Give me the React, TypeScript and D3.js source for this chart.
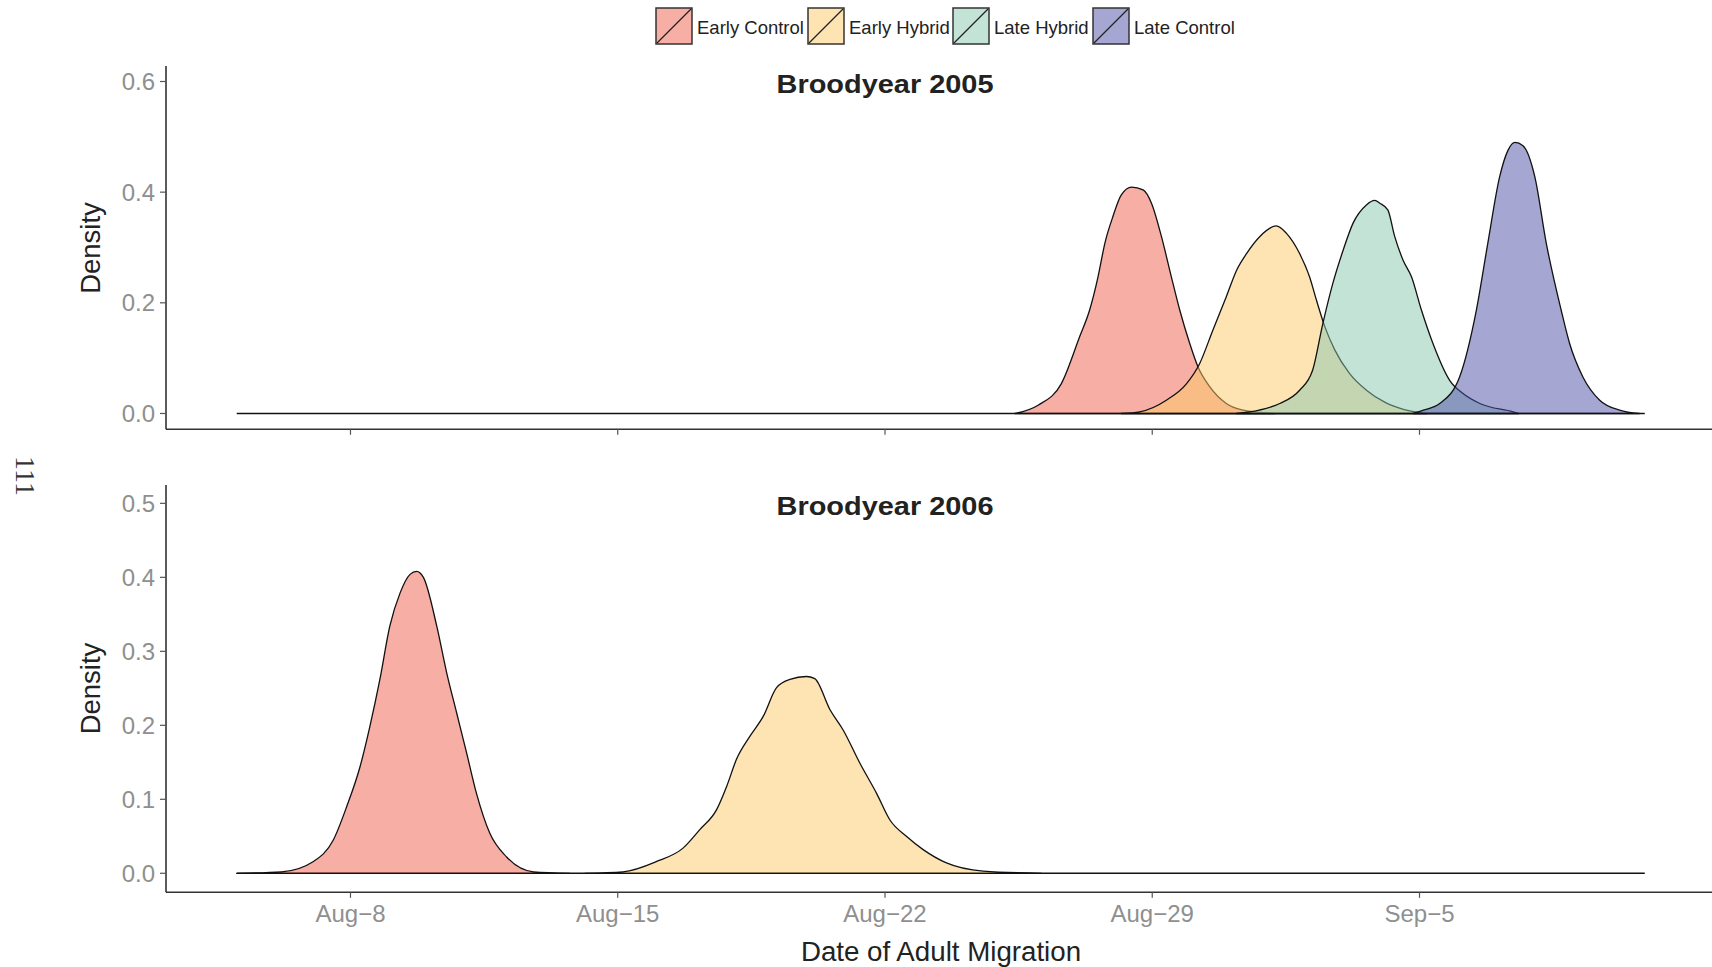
import React from "react";
import * as d3 from "d3";

// ---------- data ----------
const seriesNames = ["Early Control", "Early Hybrid", "Late Hybrid", "Late Control"];
const seriesFill = ["#ED5D4B", "#FBC965", "#89C7AF", "#4B4DA5"];
const keyFill = ["#F6AEA5", "#FDE4B2", "#C4E3D7", "#A5A6D2"];

// x values are days after Aug-8
const ec2005Days = [17.4, 18.01, 18.62, 19.1, 19.36, 19.58, 19.76, 19.97, 20.19, 20.46, 20.76, 20.98, 21.24, 21.5, 21.72, 21.98, 22.2, 22.51, 22.94, 23.38, 24.2];
const ec2005Dens = [0, 0.015, 0.054, 0.139, 0.187, 0.247, 0.308, 0.356, 0.395, 0.409, 0.404, 0.38, 0.32, 0.247, 0.187, 0.127, 0.084, 0.048, 0.018, 0.006, 0];

const eh2005Days = [20.19, 20.67, 21.37, 21.9, 22.24, 22.59, 22.94, 23.21, 23.47, 23.82, 24.25, 24.51, 24.86, 25.12, 25.3, 25.52, 25.78, 26.17, 26.61, 27.1, 27.6, 28.2];
const eh2005Dens = [0, 0.003, 0.024, 0.054, 0.09, 0.151, 0.211, 0.259, 0.289, 0.32, 0.339, 0.326, 0.289, 0.247, 0.205, 0.157, 0.115, 0.072, 0.042, 0.02, 0.007, 0];

const lh2005Days = [23.2, 23.8, 24.34, 24.86, 25.2, 25.47, 25.73, 26.0, 26.26, 26.61, 26.83, 26.96, 27.17, 27.35, 27.57, 27.79, 28.05, 28.35, 28.79, 29.14, 29.58, 30.45, 30.6];
const lh2005Dens = [0, 0.006, 0.018, 0.042, 0.078, 0.163, 0.235, 0.295, 0.344, 0.377, 0.385, 0.38, 0.368, 0.32, 0.277, 0.247, 0.187, 0.127, 0.06, 0.036, 0.018, 0.003, 0];

const lc2005Days = [27.83, 28.1, 28.53, 29.05, 29.49, 29.79, 30.1, 30.32, 30.5, 30.71, 31.02, 31.32, 31.71, 31.93, 32.28, 32.72, 33.24, 33.76];
const lc2005Dens = [0, 0.006, 0.018, 0.066, 0.187, 0.308, 0.428, 0.476, 0.49, 0.484, 0.428, 0.308, 0.187, 0.127, 0.066, 0.024, 0.006, 0];

const ec2006Days = [-2.98, -1.8, -0.97, -0.45, -0.1, 0.25, 0.51, 0.77, 1.03, 1.3, 1.56, 1.73, 1.91, 2.26, 2.52, 2.78, 3.04, 3.3, 3.65, 4.09, 4.79, 5.74];
const ec2006Dens = [0, 0.002, 0.016, 0.045, 0.09, 0.144, 0.199, 0.262, 0.334, 0.379, 0.404, 0.408, 0.4, 0.334, 0.271, 0.217, 0.163, 0.108, 0.054, 0.022, 0.002, 0];

const eh2006Days = [6.14, 7.14, 8.02, 8.71, 9.15, 9.59, 9.85, 10.11, 10.46, 10.81, 11.16, 11.51, 11.94, 12.16, 12.56, 12.9, 13.34, 13.78, 14.13, 14.56, 15.0, 15.61, 16.57, 18.1];
const eh2006Dens = [0, 0.002, 0.016, 0.034, 0.059, 0.086, 0.117, 0.154, 0.185, 0.212, 0.251, 0.262, 0.266, 0.263, 0.221, 0.194, 0.149, 0.108, 0.072, 0.05, 0.032, 0.014, 0.003, 0];

const baselineDays = [-2.98, 33.9];
const xTickDays = [0, 7, 14, 21, 28];
const xTickLabels = ["Aug\u22128", "Aug\u221215", "Aug\u221222", "Aug\u221229", "Sep\u22125"];
const topYTicks = [0, 0.2, 0.4, 0.6];
const bottomYTicks = [0, 0.1, 0.2, 0.3, 0.4, 0.5];
const panelTitles = ["Broodyear 2005", "Broodyear 2006"];

// ---------- layout ----------
const W = 1712;
const H = 967;
const FONT = "'Liberation Sans', Arial, Helvetica, sans-serif";
const base = new Date(2005, 7, 8).getTime();
const toDate = (d: number) => new Date(base + d * 864e5);

const x = d3.scaleTime().domain([toDate(-4.832), toDate(35.74)]).range([166, 1715]);

type Series = { idx: number; days: number[]; dens: number[] };
type Panel = {
  title: string;
  yDomain: [number, number];
  yRange: [number, number];
  yTicks: number[];
  series: Series[];
  showXLabels: boolean;
  titleY: number;
  yLabelY: number;
};

const panels: Panel[] = [
  {
    title: panelTitles[0],
    yDomain: [-0.0286, 0.628],
    yRange: [429.3, 66],
    yTicks: topYTicks,
    series: [
      { idx: 0, days: ec2005Days, dens: ec2005Dens },
      { idx: 1, days: eh2005Days, dens: eh2005Dens },
      { idx: 2, days: lh2005Days, dens: lh2005Dens },
      { idx: 3, days: lc2005Days, dens: lc2005Dens },
    ],
    showXLabels: false,
    titleY: 92.5,
    yLabelY: 248,
  },
  {
    title: panelTitles[1],
    yDomain: [-0.0257, 0.5248],
    yRange: [892.3, 485],
    yTicks: bottomYTicks,
    series: [
      { idx: 0, days: ec2006Days, dens: ec2006Dens },
      { idx: 1, days: eh2006Days, dens: eh2006Dens },
    ],
    showXLabels: true,
    titleY: 514.5,
    yLabelY: 688.5,
  },
];

const legendKeyX = [656, 808, 953, 1093];

function PanelView({ p }: { p: Panel }) {
  const y = d3.scaleLinear().domain(p.yDomain).range(p.yRange);
  const area = d3
    .area<[number, number]>()
    .x((d) => x(toDate(d[0])))
    .y0(y(0))
    .y1((d) => y(d[1]))
    .curve(d3.curveMonotoneX);
  const bottom = p.yRange[0];
  const top = p.yRange[1];
  return (
    <g>
      <line
        x1={x(toDate(baselineDays[0]))}
        x2={x(toDate(baselineDays[1]))}
        y1={y(0)}
        y2={y(0)}
        stroke="#111"
        strokeWidth={1.6}
      />
      {p.series.map((s) => {
        const pts = s.days.map((d, i) => [d, s.dens[i]] as [number, number]);
        return (
          <path
            key={s.idx}
            d={area(pts) || ""}
            fill={seriesFill[s.idx]}
            fillOpacity={0.5}
            stroke="#111"
            strokeWidth={1.3}
            strokeLinejoin="round"
          />
        );
      })}
      <line x1={166} x2={166} y1={top} y2={bottom} stroke="#333" strokeWidth={1.6} />
      <line x1={166} x2={1715} y1={bottom} y2={bottom} stroke="#333" strokeWidth={1.6} />
      {p.yTicks.map((t) => (
        <g key={t}>
          <line x1={160} x2={166} y1={y(t)} y2={y(t)} stroke="#555" strokeWidth={1.2} />
          <text x={155} y={y(t) + 8.6} textAnchor="end" fontSize={24} fill="#8f8f8f" fontFamily={FONT}>
            {t.toFixed(1)}
          </text>
        </g>
      ))}
      {xTickDays.map((d, i) => (
        <g key={d}>
          <line x1={x(toDate(d))} x2={x(toDate(d))} y1={bottom} y2={bottom + 5.5} stroke="#555" strokeWidth={1.2} />
          {p.showXLabels && (
            <text x={x(toDate(d))} y={bottom + 29.5} textAnchor="middle" fontSize={24} fill="#8f8f8f" fontFamily={FONT}>
              {xTickLabels[i]}
            </text>
          )}
        </g>
      ))}
      <text
        x={885}
        y={p.titleY}
        textAnchor="middle"
        fontSize={26.5}
        fontWeight="bold"
        fill="#222"
        fontFamily={FONT}
        textLength={217}
        lengthAdjust="spacingAndGlyphs"
      >
        {p.title}
      </text>
      <text
        transform={`translate(99.5,${p.yLabelY}) rotate(-90)`}
        textAnchor="middle"
        fontSize={27.5}
        fill="#222"
        fontFamily={FONT}
      >
        Density
      </text>
    </g>
  );
}

export default function App() {
  return (
    <svg
      width={W}
      height={H}
      viewBox={`0 0 ${W} ${H}`}
      style={{ position: "absolute", left: 0, top: 0, background: "#fff" }}
    >
      <rect x={0} y={0} width={W} height={H} fill="#fff" />
      {panels.map((p, i) => (
        <PanelView key={i} p={p} />
      ))}
      {seriesNames.map((name, i) => (
        <g key={name}>
          <rect x={legendKeyX[i]} y={8} width={36} height={36} fill={keyFill[i]} stroke="#333" strokeWidth={1.5} />
          <line x1={legendKeyX[i] + 1} y1={43} x2={legendKeyX[i] + 35} y2={9} stroke="#222" strokeWidth={1.2} />
          <text x={legendKeyX[i] + 41} y={33.5} fontSize={18.5} fill="#222" fontFamily={FONT}>
            {name}
          </text>
        </g>
      ))}
      <text x={941} y={961} textAnchor="middle" fontSize={27.7} fill="#222" fontFamily={FONT}>
        Date of Adult Migration
      </text>
      <text
        transform="translate(16,476) rotate(90)"
        textAnchor="middle"
        fontSize={28}
        fill="#333"
        fontFamily="'Liberation Serif', 'Times New Roman', serif"
      >
        111
      </text>
    </svg>
  );
}
